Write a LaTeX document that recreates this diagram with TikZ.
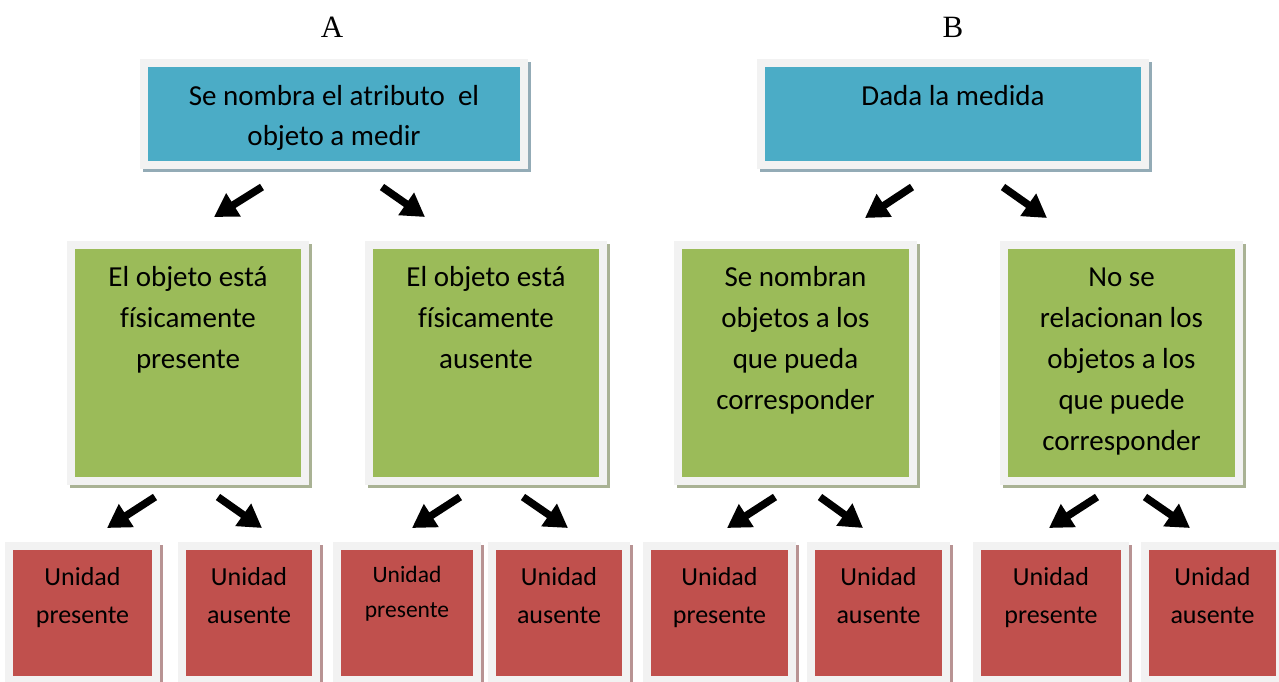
\documentclass[tikz,border=0pt]{standalone}
\usepackage{fontspec}
\setmainfont{Carlito}[Ligatures=NoCommon]
\newfontfamily\timesf{Liberation Serif}
\usetikzlibrary{arrows.meta,calc}
\definecolor{bluefill}{HTML}{4BACC6}
\definecolor{greenfill}{HTML}{9BBB59}
\definecolor{redfill}{HTML}{C0504D}
\definecolor{framegray}{HTML}{F2F2F2}
\definecolor{blueshadow}{HTML}{93ABB6}
\definecolor{greenshadow}{HTML}{A9B294}
\definecolor{redshadow}{HTML}{B89393}
\newcommand\fbx[7]{%
  \fill[#7] ({#2-8+3},{#3-8+3}) rectangle ({#4+8+3},{#5+8+3});
  \fill[framegray] ({#2-8},{#3-8}) rectangle ({#4+8},{#5+8});
  \node[fill=#6, inner sep=0pt, outer sep=0pt, minimum width={(#4-#2)*1pt}, minimum height={(#5-#3)*1pt}, anchor=north west] (#1) at (#2,#3) {};
}
\newcommand\topstrut{\rule{0pt}{1.05em}}
\tikzset{
  bigtxt/.style={anchor=north, inner sep=0pt, align=center, font=\fontsize{29}{41}\selectfont},
  bluetxt/.style={bigtxt, font=\fontsize{29}{40}\selectfont},
  redtxt/.style={anchor=north, inner sep=0pt, align=center, font=\fontsize{26}{38}\selectfont},
  smallredtxt/.style={anchor=north, inner sep=0pt, align=center, font=\fontsize{23.5}{35}\selectfont},
  title/.style={anchor=base, inner sep=0pt, font=\timesf\fontsize{31}{36}\selectfont},
  arr/.style={line width=7.5pt, -{Triangle[length=23pt,width=26pt]}},
}
\begin{document}
\begin{tikzpicture}[x=1pt,y=-1pt]
\useasboundingbox (0,0) rectangle (1279,681);
\clip (0,0) rectangle (1279,681);
% titles
\node[title] (tA) at (332,37) {A};
\node[title] (tB) at (953,37) {B};
% top boxes
\fbx{bA}{148}{67}{520}{161}{bluefill}{blueshadow}
\fbx{bB}{765}{67}{1141}{161}{bluefill}{blueshadow}
\node[bluetxt] (bAt) at (334,74.5) {\topstrut Se nombra el atributo~ el\\objeto a medir};
\node[bluetxt] (bBt) at (953,74.5) {\topstrut Dada la medida};
% green boxes
\fbx{g1}{75}{249}{301}{477}{greenfill}{greenshadow}
\fbx{g2}{373}{249}{599}{477}{greenfill}{greenshadow}
\fbx{g3}{682}{249}{909}{477}{greenfill}{greenshadow}
\fbx{g4}{1008}{249}{1235}{477}{greenfill}{greenshadow}
\node[bigtxt] (g1t) at (188,255.5) {\topstrut El objeto está\\físicamente\\presente};
\node[bigtxt] (g2t) at (486,255.5) {\topstrut El objeto está\\físicamente\\ausente};
\node[bigtxt] (g3t) at (795.5,255.5) {\topstrut Se nombran\\objetos a los\\que pueda\\corresponder};
\node[bigtxt] (g4t) at (1121.5,255.5) {\topstrut No se\\relacionan los\\objetos a los\\que puede\\corresponder};
% red boxes
\fbx{r1}{13}{550}{152}{676}{redfill}{redshadow}
\fbx{r2}{186}{550}{312}{676}{redfill}{redshadow}
\fbx{r3}{341}{550}{473}{676}{redfill}{redshadow}
\fbx{r4}{496}{550}{622}{676}{redfill}{redshadow}
\fbx{r5}{651}{550}{788}{676}{redfill}{redshadow}
\fbx{r6}{815}{550}{942}{676}{redfill}{redshadow}
\fbx{r7}{981}{550}{1121}{676}{redfill}{redshadow}
\fbx{r8}{1149}{550}{1276}{676}{redfill}{redshadow}
\node[redtxt] (r1t) at (82.5,557.7) {\topstrut Unidad\\presente};
\node[redtxt] (r2t) at (249,557.7) {\topstrut Unidad\\ausente};
\node[smallredtxt] (r3t) at (407,557.3) {\topstrut Unidad\\presente};
\node[redtxt] (r4t) at (559,557.7) {\topstrut Unidad\\ausente};
\node[redtxt] (r5t) at (719.5,557.7) {\topstrut Unidad\\presente};
\node[redtxt] (r6t) at (878.5,557.7) {\topstrut Unidad\\ausente};
\node[redtxt] (r7t) at (1051,557.7) {\topstrut Unidad\\presente};
\node[redtxt] (r8t) at (1212.5,557.7) {\topstrut Unidad\\ausente};
% arrow coordinates
\coordinate (a1s) at (262,187); \coordinate (a1e) at (214,217);
\coordinate (a2s) at (382,187); \coordinate (a2e) at (425,217);
\coordinate (a3s) at (912,187); \coordinate (a3e) at (865,218);
\coordinate (a4s) at (1003,187); \coordinate (a4e) at (1047,218);
\coordinate (b1s) at (155,497); \coordinate (b1e) at (107,528);
\coordinate (b2s) at (218,497); \coordinate (b2e) at (262,528);
\coordinate (b3s) at (460,497); \coordinate (b3e) at (412,528);
\coordinate (b4s) at (523,497); \coordinate (b4e) at (568,528);
\coordinate (b5s) at (775,497); \coordinate (b5e) at (727,528);
\coordinate (b6s) at (820,497); \coordinate (b6e) at (863,528);
\coordinate (b7s) at (1097,497); \coordinate (b7e) at (1049,528);
\coordinate (b8s) at (1145,497); \coordinate (b8e) at (1190,528);
\foreach \p in {a1,a2,a3,a4,b1,b2,b3,b4,b5,b6,b7,b8}{
  \draw[arr] (\p s) -- (\p e);
}
\end{tikzpicture}
\end{document}
